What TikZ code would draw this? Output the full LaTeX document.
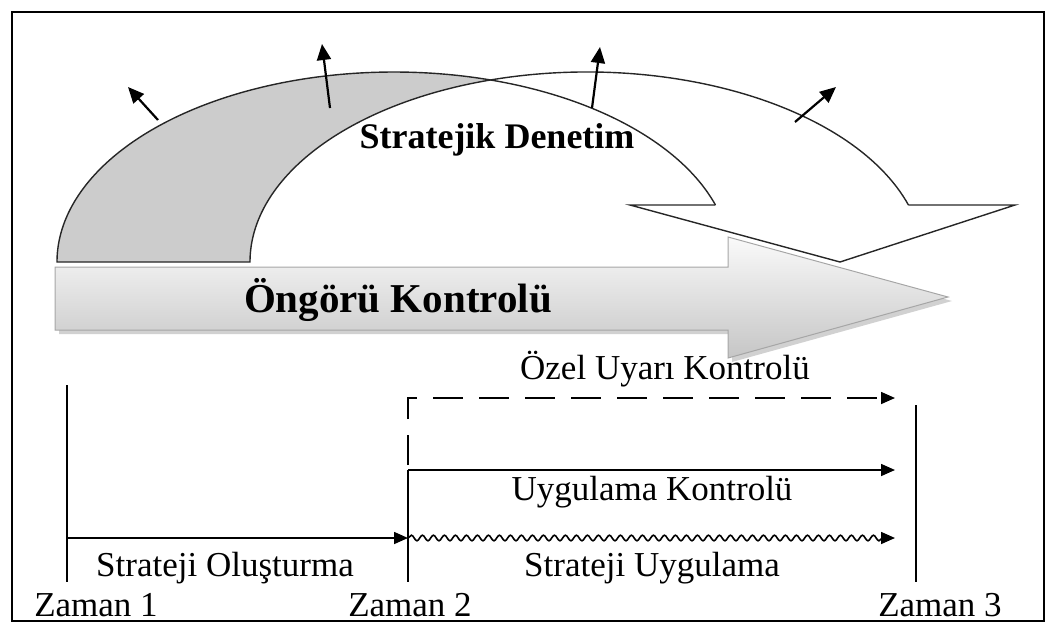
\documentclass[tikz,border=0pt]{standalone}
\usepackage{fontspec}
\setmainfont{Liberation Serif}
\usetikzlibrary{arrows.meta,decorations.pathmorphing,shadows}
\tikzset{
  cerceve/.style={draw=black, line width=0.8pt},
  kenar/.style={draw=black!85, line width=0.7pt},
  arkayuz/.style={kenar, fill=gray!40},
  buyukok/.style={draw=gray!70, line width=0.5pt, top color=gray!4, bottom color=gray!45,
                  drop shadow={shadow xshift=2pt, shadow yshift=-2pt, fill=gray!60, opacity=0.6}},
  disok/.style={-{Triangle[length=8pt,width=7pt]}, line width=1.1pt},
  cizgi/.style={draw=black, line width=0.8pt},
  ok/.style={-{Triangle[length=7pt,width=6pt]}, line width=0.8pt},
  kesik/.style={dash pattern=on 15pt off 8pt},
  dalga/.style={decorate, decoration={snake, amplitude=1.4pt, segment length=5.5pt, post length=6pt}},
  etiket/.style={font=\fontsize{17.5}{20}\selectfont, inner sep=1pt},
  baslik/.style={font=\fontsize{18}{20}\selectfont\bfseries, inner sep=1pt},
  buyukbaslik/.style={font=\fontsize{20.5}{23}\selectfont\bfseries, inner sep=1pt}
}
\begin{document}
\begin{tikzpicture}[x=0.5pt, y=-0.5pt]
  \useasboundingbox (0,0) rectangle (1056,633);
  \draw[cerceve] (12,12) rectangle (1044,621);

  % egri ok (stratejik denetim)
  \filldraw[arkayuz] (57,262)
     arc[start angle=-180, end angle=-73.36, x radius=337, y radius=190] coordinate (tepe)
     arc[start angle=-106.64, end angle=-180, x radius=337, y radius=190] -- cycle;
  \draw[kenar] (tepe) arc[start angle=-73.36, end angle=-17.46, x radius=337, y radius=190] coordinate (ic);
  \draw[kenar] (tepe) arc[start angle=-106.64, end angle=-17.46, x radius=337, y radius=190] coordinate (dis);
  \draw[kenar] (ic) -- (630,205) -- (840,262) -- (1015,205) -- (dis);
  \node[baslik] (denetim) at (497,140) {Stratejik Denetim};

  % disari oklar
  \coordinate (d1a) at (158,120); \coordinate (d1b) at (128,87);
  \coordinate (d2a) at (330,108); \coordinate (d2b) at (322,44);
  \coordinate (d3a) at (592,108); \coordinate (d3b) at (600,47);
  \coordinate (d4a) at (795,122); \coordinate (d4b) at (836,87);
  \draw[disok] (d1a) -- (d1b);
  \draw[disok] (d2a) -- (d2b);
  \draw[disok] (d3a) -- (d3b);
  \draw[disok] (d4a) -- (d4b);

  % ongoru kontrolu
  \draw[buyukok] (55,267) -- (728,267) -- (728,237) -- (948,297) -- (728,358) -- (728,330) -- (55,330) -- cycle;
  \node[buyukbaslik] (ongoru) at (398,300) {Öngörü Kontrolü};

  % zaman cizgileri
  \coordinate (z1ust) at (67,385);   \coordinate (z1alt) at (67,582);
  \coordinate (z2ust) at (408,398);  \coordinate (z2kes) at (408,465);
  \coordinate (z2orta) at (408,470); \coordinate (z2alt) at (408,582);
  \coordinate (z3ust) at (916,405);  \coordinate (z3alt) at (916,582);
  \coordinate (z1ok) at (67,538);    \coordinate (z2ok) at (408,538);
  \coordinate (ozelson) at (895,398);
  \coordinate (uygson) at (895,470);
  \coordinate (dalgason) at (895,538);
  \draw[cizgi] (z1ust) -- (z1alt);
  \draw[cizgi] (z2orta) -- (z2alt);
  \draw[cizgi] (z3ust) -- (z3alt);

  \draw[ok, kesik] (z2kes) -- (z2ust) -- (ozelson);
  \draw[ok] (z2orta) -- (uygson);
  \draw[ok] (z1ok) -- (z2ok);
  \draw[ok, dalga] (z2ok) -- (dalgason);

  \node[etiket] (ozel) at (665,369) {Özel Uyarı Kontrolü};
  \node[etiket] (uyg) at (652,492) {Uygulama Kontrolü};
  \node[etiket] (olus) at (225,568) {Strateji Oluşturma};
  \node[etiket] (suyg) at (652,568) {Strateji Uygulama};
  \node[etiket] (z1) at (96,605) {Zaman 1};
  \node[etiket] (z2) at (410,605) {Zaman 2};
  \node[etiket] (z3) at (940,605) {Zaman 3};
\end{tikzpicture}
\end{document}
